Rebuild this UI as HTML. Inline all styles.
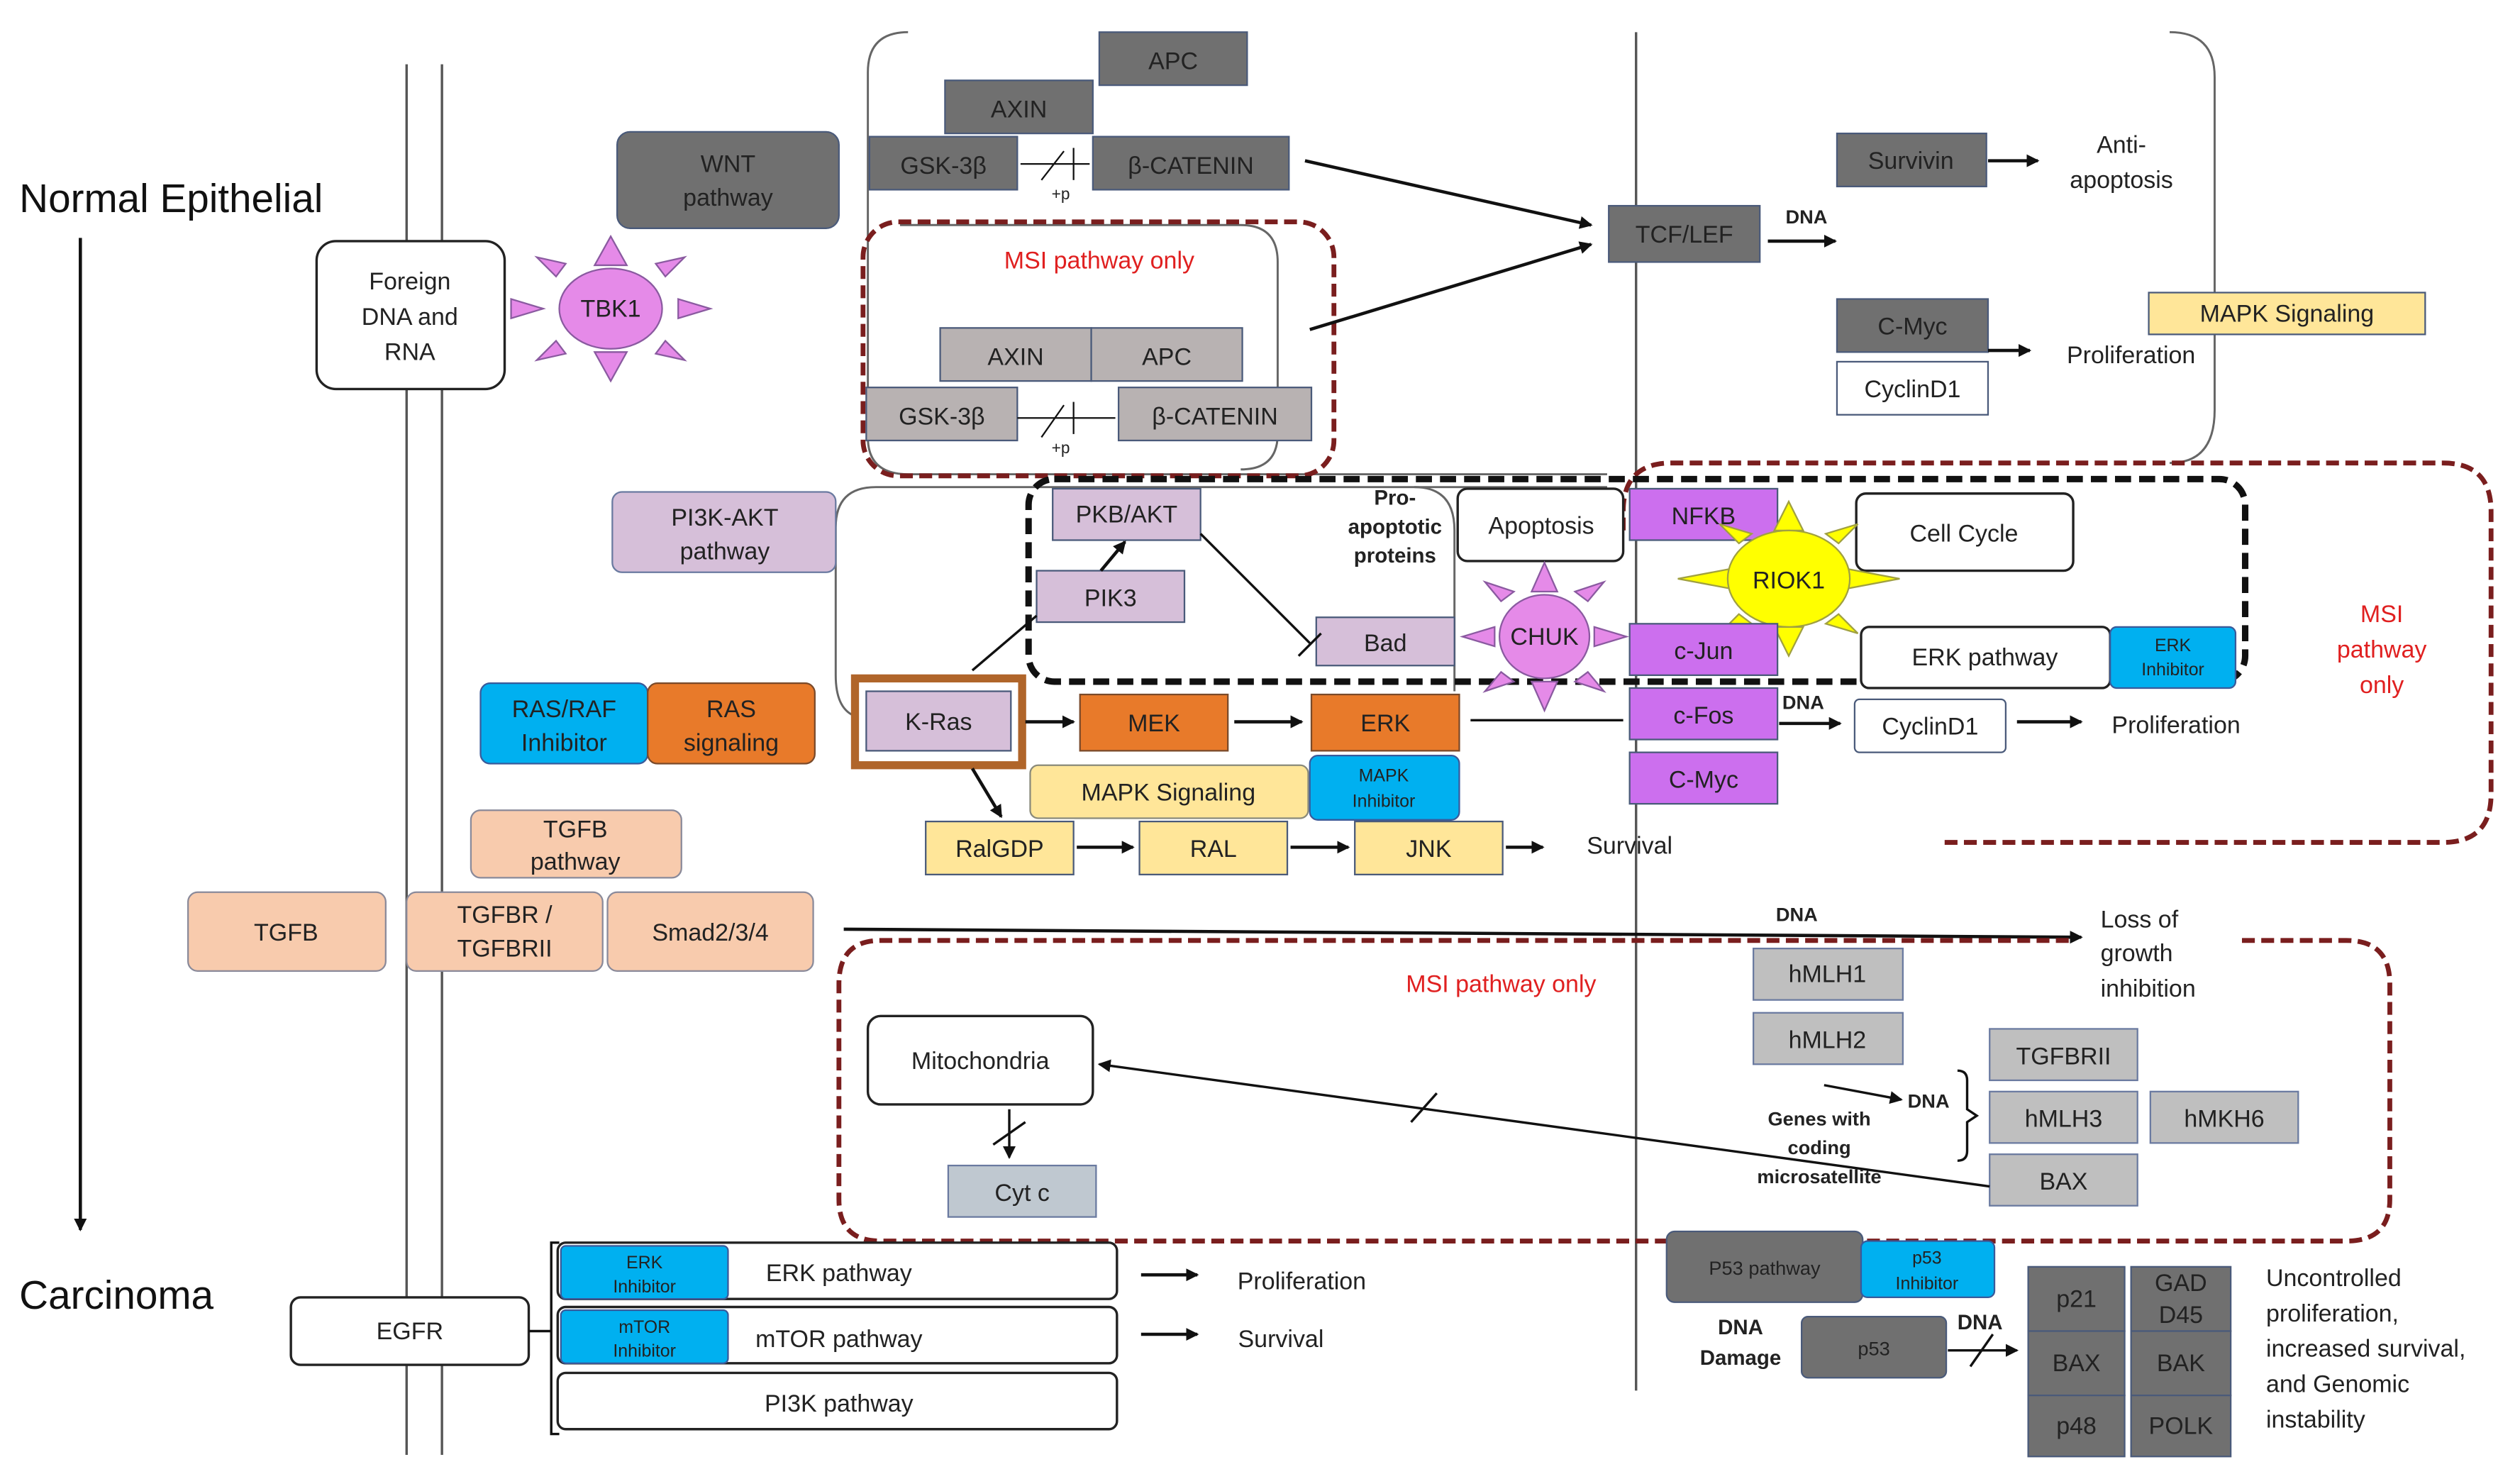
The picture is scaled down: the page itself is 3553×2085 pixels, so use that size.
<!DOCTYPE html>
<html><head><meta charset="utf-8"><style>
html,body{margin:0;padding:0;background:#fff}
svg{display:block}
text{font-family:"Liberation Sans",sans-serif;fill:#222}
text.r{fill:#e02020}
</style></head><body>
<svg width="3553" height="2085" viewBox="0 0 1568 920" preserveAspectRatio="none" xmlns="http://www.w3.org/2000/svg">
<defs>
<marker id="a" markerWidth="8" markerHeight="8" refX="7" refY="4" orient="auto" markerUnits="userSpaceOnUse"><path d="M0,0 L8,4 L0,8 z" fill="#111"/></marker>
</defs>
<g font-size="15" text-anchor="middle">
<line x1="253" y1="40" x2="253" y2="905" stroke="#555" stroke-width="1.5"/>
<line x1="275" y1="40" x2="275" y2="905" stroke="#555" stroke-width="1.5"/>
<line x1="1018" y1="20" x2="1018" y2="865" stroke="#555" stroke-width="1.5"/>
<text x="12" y="132" font-size="25" text-anchor="start" style="fill:#111">Normal Epithelial</text>
<line x1="50" y1="148" x2="50" y2="765" stroke="#111" stroke-width="2" marker-end="url(#a)"/>
<text x="12" y="814" font-size="25" text-anchor="start" style="fill:#111">Carcinoma</text>
<path d="M565,20 Q540,20 540,45 L540,272 Q540,295 565,295 L1000,295" fill="none" stroke="#666" stroke-width="1.3"/>
<path d="M1350,20 Q1378,20 1378,48 L1378,255 Q1378,288 1350,288" fill="none" stroke="#666" stroke-width="1.3"/>
<path d="M560,140 L772,140 Q795,140 795,163 L795,270 Q795,292 772,292" fill="none" stroke="#666" stroke-width="1.3"/>
<path d="M1000,303 L545,303 Q520,303 520,328 L520,420 Q520,440 531,445" fill="none" stroke="#666" stroke-width="1.3"/>
<path d="M880,303 Q905,303 905,330 L905,430" fill="none" stroke="#666" stroke-width="1.3"/>
<rect x="684" y="20" width="92" height="33" fill="#707070" stroke="#4a5a7a"/><text x="730" y="43">APC</text>
<rect x="588" y="50" width="92" height="33" fill="#707070" stroke="#4a5a7a"/><text x="634" y="73">AXIN</text>
<rect x="541" y="85" width="92" height="33" fill="#707070" stroke="#4a5a7a"/><text x="587" y="108">GSK-3β</text>
<rect x="680" y="85" width="122" height="33" fill="#707070" stroke="#4a5a7a"/><text x="741" y="108">β-CATENIN</text>
<line x1="635" y1="102" x2="678" y2="102" stroke="#111"/><line x1="648" y1="112" x2="662" y2="94" stroke="#111"/><line x1="668" y1="92" x2="668" y2="112" stroke="#111"/><text x="660" y="124" font-size="10">+p</text>
<rect x="384" y="82" width="138" height="60" rx="8" fill="#707070" stroke="#4a5a7a"/><text x="453" y="107">WNT</text><text x="453" y="128">pathway</text>
<rect x="197" y="150" width="117" height="92" rx="12" fill="#fff" stroke="#222" stroke-width="1.5"/><text x="255" y="180">Foreign</text><text x="255" y="202">DNA and</text><text x="255" y="224">RNA</text>
<g fill="#e58ae8" stroke="#8a5aa0"><polygon points="370,165 380,147 390,165"/><polygon points="370,219 380,237 390,219"/><polygon points="338,192 318,186 318,198"/><polygon points="422,186 442,192 422,198"/><polygon points="346,172 334,160 352,164"/><polygon points="408,164 426,160 414,172"/><polygon points="346,212 334,224 352,220"/><polygon points="408,220 426,224 414,212"/>
<ellipse cx="380" cy="192" rx="32" ry="25"/></g><text x="380" y="197">TBK1</text>
<rect x="537" y="138" width="293" height="158" rx="22" fill="none" stroke="#7a1e1e" stroke-width="3" stroke-dasharray="8,4"/>
<text x="684" y="167" class="r">MSI pathway only</text>
<rect x="585" y="204" width="94" height="33" fill="#b8b2b2" stroke="#4a5a7a"/><text x="632" y="227">AXIN</text>
<rect x="679" y="204" width="94" height="33" fill="#b8b2b2" stroke="#4a5a7a"/><text x="726" y="227">APC</text>
<rect x="539" y="241" width="94" height="33" fill="#b8b2b2" stroke="#4a5a7a"/><text x="586" y="264">GSK-3β</text>
<rect x="696" y="241" width="120" height="33" fill="#b8b2b2" stroke="#4a5a7a"/><text x="756" y="264">β-CATENIN</text>
<line x1="633" y1="260" x2="694" y2="260" stroke="#111"/><line x1="648" y1="272" x2="662" y2="252" stroke="#111"/><line x1="668" y1="250" x2="668" y2="270" stroke="#111"/><text x="660" y="282" font-size="10">+p</text>
<line x1="812" y1="100" x2="990" y2="140" stroke="#111" stroke-width="2" marker-end="url(#a)"/>
<line x1="815" y1="205" x2="990" y2="152" stroke="#111" stroke-width="2" marker-end="url(#a)"/>
<rect x="1001" y="128" width="94" height="35" fill="#707070" stroke="#4a5a7a"/><text x="1048" y="151">TCF/LEF</text>
<text x="1124" y="139" font-size="12" font-weight="bold">DNA</text><line x1="1100" y1="150" x2="1142" y2="150" stroke="#111" stroke-width="2" marker-end="url(#a)"/>
<rect x="1143" y="83" width="93" height="33" fill="#707070" stroke="#4a5a7a"/><text x="1189" y="105">Survivin</text>
<line x1="1237" y1="100" x2="1268" y2="100" stroke="#111" stroke-width="2" marker-end="url(#a)"/>
<text x="1320" y="95">Anti-</text><text x="1320" y="117">apoptosis</text>
<rect x="1337" y="182" width="172" height="26" fill="#ffe699" stroke="#4a5a7a"/><text x="1423" y="200">MAPK Signaling</text>
<rect x="1143" y="186" width="94" height="33" fill="#707070" stroke="#4a5a7a"/><text x="1190" y="208">C-Myc</text>
<rect x="1143" y="225" width="94" height="33" fill="#fff" stroke="#4a5a7a"/><text x="1190" y="247">CyclinD1</text>
<line x1="1237" y1="218" x2="1263" y2="218" stroke="#111" stroke-width="2" marker-end="url(#a)"/><text x="1326" y="226">Proliferation</text>
<path d="M1210,524 L1520,524 Q1550,524 1550,494 L1550,318 Q1550,288 1520,288 L1040,288 Q1010,288 1010,318 L1010,330" fill="none" stroke="#7a1e1e" stroke-width="3" stroke-dasharray="8,4"/>
<text x="1482" y="387" class="r">MSI</text><text x="1482" y="409" class="r">pathway</text><text x="1482" y="431" class="r">only</text>
<rect x="640" y="298" width="757" height="126" rx="16" fill="none" stroke="#111" stroke-width="4" stroke-dasharray="10,5"/>
<rect x="381" y="306" width="139" height="50" rx="6" fill="#d6bfd9" stroke="#6a7aa0"/><text x="451" y="327">PI3K-AKT</text><text x="451" y="348">pathway</text>
<rect x="655" y="304" width="92" height="32" fill="#d6bfd9" stroke="#4a5a7a"/><text x="701" y="325">PKB/AKT</text>
<rect x="645" y="355" width="92" height="32" fill="#d6bfd9" stroke="#4a5a7a"/><text x="691" y="377">PIK3</text>
<line x1="685" y1="355" x2="700" y2="337" stroke="#111" stroke-width="2" marker-end="url(#a)"/>
<g font-size="13" font-weight="bold"><text x="868" y="314">Pro-</text><text x="868" y="332">apoptotic</text><text x="868" y="350">proteins</text></g>
<rect x="907" y="304" width="103" height="45" rx="6" fill="#fff" stroke="#222" stroke-width="1.5"/><text x="959" y="332">Apoptosis</text>
<rect x="819" y="384" width="86" height="30" fill="#d6bfd9" stroke="#4a5a7a"/><text x="862" y="405">Bad</text>
<line x1="747" y1="332" x2="815" y2="400" stroke="#111" stroke-width="1.5"/><line x1="808" y1="408" x2="822" y2="394" stroke="#111" stroke-width="1.5"/>
<g fill="#e58ae8" stroke="#8a5aa0"><polygon points="953,368 961,350 969,368"/><polygon points="953,424 961,442 969,424"/><polygon points="930,390 910,396 930,402"/><polygon points="992,390 1012,396 992,402"/><polygon points="934,374 924,362 942,368"/><polygon points="980,368 998,362 988,374"/><polygon points="934,418 924,430 942,424"/><polygon points="980,424 998,430 988,418"/>
<ellipse cx="961" cy="396" rx="28" ry="26"/></g><text x="961" y="401">CHUK</text>
<rect x="1014" y="304" width="92" height="32" fill="#cc6fee" stroke="#4a5a7a"/><text x="1060" y="326">NFKB</text>
<rect x="1155" y="307" width="135" height="48" rx="6" fill="#fff" stroke="#222" stroke-width="1.5"/><text x="1222" y="337">Cell Cycle</text>
<g fill="#ffff00" stroke="#a0a040"><polygon points="1104,330 1113,312 1122,330"/><polygon points="1104,390 1113,408 1122,390"/><polygon points="1076,354 1044,360 1076,366"/><polygon points="1150,354 1182,360 1150,366"/><polygon points="1082,338 1070,326 1090,332"/><polygon points="1136,332 1156,326 1144,338"/><polygon points="1082,382 1070,394 1090,388"/><polygon points="1136,388 1156,394 1144,382"/>
<ellipse cx="1113" cy="360" rx="38" ry="30"/></g><text x="1113" y="366">RIOK1</text>
<rect x="1014" y="388" width="92" height="32" fill="#cc6fee" stroke="#4a5a7a"/><text x="1060" y="410">c-Jun</text>
<rect x="1158" y="390" width="155" height="38" rx="5" fill="#fff" stroke="#222" stroke-width="1.5"/><text x="1235" y="414">ERK pathway</text>
<rect x="1313" y="390" width="78" height="38" rx="4" fill="#00b0f0" stroke="#3a5a9a"/><text x="1352" y="405" font-size="11">ERK</text><text x="1352" y="420" font-size="11">Inhibitor</text>
<rect x="299" y="425" width="104" height="50" rx="6" fill="#00b0f0" stroke="#3a5a9a"/><text x="351" y="446">RAS/RAF</text><text x="351" y="467">Inhibitor</text>
<rect x="403" y="425" width="104" height="50" rx="6" fill="#e87a2a" stroke="#7a4a2a"/><text x="455" y="446">RAS</text><text x="455" y="467">signaling</text>
<rect x="532" y="422" width="104" height="54" fill="none" stroke="#b0652a" stroke-width="5"/>
<rect x="539" y="430" width="90" height="37" fill="#d6bfd9" stroke="#4a5a7a"/><text x="584" y="454">K-Ras</text>
<rect x="672" y="432" width="92" height="35" fill="#e87a2a" stroke="#7a4a2a"/><text x="718" y="455">MEK</text>
<rect x="816" y="432" width="92" height="35" fill="#e87a2a" stroke="#7a4a2a"/><text x="862" y="455">ERK</text>
<line x1="638" y1="449" x2="668" y2="449" stroke="#111" stroke-width="2" marker-end="url(#a)"/>
<line x1="768" y1="449" x2="810" y2="449" stroke="#111" stroke-width="2" marker-end="url(#a)"/>
<line x1="915" y1="448" x2="1010" y2="448" stroke="#111" stroke-width="1.5"/>
<line x1="605" y1="417" x2="645" y2="383" stroke="#111" stroke-width="1.5"/>
<line x1="605" y1="478" x2="623" y2="508" stroke="#111" stroke-width="2" marker-end="url(#a)"/>
<rect x="1014" y="428" width="92" height="32" fill="#cc6fee" stroke="#4a5a7a"/><text x="1060" y="450">c-Fos</text>
<text x="1122" y="441" font-size="12" font-weight="bold">DNA</text><line x1="1107" y1="450" x2="1145" y2="450" stroke="#111" stroke-width="2" marker-end="url(#a)"/>
<rect x="1154" y="435" width="94" height="33" rx="3" fill="#fff" stroke="#4a5a7a"/><text x="1201" y="457">CyclinD1</text>
<line x1="1255" y1="449" x2="1295" y2="449" stroke="#111" stroke-width="2" marker-end="url(#a)"/><text x="1354" y="456">Proliferation</text>
<rect x="1014" y="468" width="92" height="32" fill="#cc6fee" stroke="#4a5a7a"/><text x="1060" y="490">C-Myc</text>
<rect x="641" y="476" width="173" height="33" rx="5" fill="#ffe699" stroke="#8a8a7a"/><text x="727" y="498">MAPK Signaling</text>
<rect x="815" y="470" width="93" height="40" rx="5" fill="#00b0f0" stroke="#3a5a9a"/><text x="861" y="486" font-size="11">MAPK</text><text x="861" y="502" font-size="11">Inhibitor</text>
<rect x="576" y="511" width="92" height="33" fill="#ffe699" stroke="#4a5a7a"/><text x="622" y="533">RalGDP</text>
<rect x="709" y="511" width="92" height="33" fill="#ffe699" stroke="#4a5a7a"/><text x="755" y="533">RAL</text>
<rect x="843" y="511" width="92" height="33" fill="#ffe699" stroke="#4a5a7a"/><text x="889" y="533">JNK</text>
<line x1="670" y1="527" x2="705" y2="527" stroke="#111" stroke-width="2" marker-end="url(#a)"/>
<line x1="803" y1="527" x2="839" y2="527" stroke="#111" stroke-width="2" marker-end="url(#a)"/>
<line x1="937" y1="527" x2="960" y2="527" stroke="#111" stroke-width="2" marker-end="url(#a)"/><text x="1014" y="531">Survival</text>
<rect x="293" y="504" width="131" height="42" rx="6" fill="#f8cbad" stroke="#8a8a9a"/><text x="358" y="521">TGFB</text><text x="358" y="541">pathway</text>
<rect x="117" y="555" width="123" height="49" rx="6" fill="#f8cbad" stroke="#8a8a9a"/><text x="178" y="585">TGFB</text>
<rect x="253" y="555" width="122" height="49" rx="6" fill="#f8cbad" stroke="#8a8a9a"/><text x="314" y="574">TGFBR /</text><text x="314" y="595">TGFBRII</text>
<rect x="378" y="555" width="128" height="49" rx="6" fill="#f8cbad" stroke="#8a8a9a"/><text x="442" y="585">Smad2/3/4</text>
<line x1="525" y1="578" x2="1295" y2="583" stroke="#111" stroke-width="2" marker-end="url(#a)"/>
<text x="1118" y="573" font-size="12" font-weight="bold">DNA</text>
<text x="1307" y="577" text-anchor="start">Loss of</text><text x="1307" y="598" text-anchor="start">growth</text><text x="1307" y="620" text-anchor="start">inhibition</text>
<path d="M1395,585 L1460,585 Q1487,585 1487,612 L1487,746 Q1487,772 1460,772 L548,772 Q522,772 522,746 L522,612 Q522,585 548,585 L1290,585" fill="none" stroke="#7a1e1e" stroke-width="3" stroke-dasharray="8,4"/>
<text x="934" y="617" class="r">MSI pathway only</text>
<rect x="1091" y="590" width="93" height="32" fill="#bfbfbf" stroke="#6a7aa0"/><text x="1137" y="611">hMLH1</text>
<rect x="1091" y="630" width="93" height="32" fill="#bfbfbf" stroke="#6a7aa0"/><text x="1137" y="652">hMLH2</text>
<rect x="540" y="632" width="140" height="55" rx="8" fill="#fff" stroke="#222" stroke-width="1.5"/><text x="610" y="665">Mitochondria</text>
<rect x="590" y="725" width="92" height="32" fill="#bfc8d0" stroke="#6a7aa0"/><text x="636" y="747">Cyt c</text>
<line x1="628" y1="690" x2="628" y2="720" stroke="#111" stroke-width="1.5" marker-end="url(#a)"/><line x1="618" y1="712" x2="638" y2="698" stroke="#111" stroke-width="1.5"/>
<rect x="1238" y="640" width="92" height="32" fill="#bfbfbf" stroke="#6a7aa0"/><text x="1284" y="662">TGFBRII</text>
<rect x="1238" y="679" width="92" height="32" fill="#bfbfbf" stroke="#6a7aa0"/><text x="1284" y="701">hMLH3</text>
<rect x="1338" y="679" width="92" height="32" fill="#bfbfbf" stroke="#6a7aa0"/><text x="1384" y="701">hMKH6</text>
<rect x="1238" y="718" width="92" height="32" fill="#bfbfbf" stroke="#6a7aa0"/><text x="1284" y="740">BAX</text>
<line x1="1238" y1="738" x2="684" y2="662" stroke="#111" stroke-width="1.5" marker-end="url(#a)"/><line x1="878" y1="698" x2="894" y2="680" stroke="#111" stroke-width="1.5"/>
<g font-size="12" font-weight="bold"><text x="1132" y="700">Genes with</text><text x="1132" y="718">coding</text><text x="1132" y="736">microsatellite</text><text x="1200" y="689">DNA</text></g>
<line x1="1135" y1="675" x2="1183" y2="684" stroke="#111" stroke-width="1.5" marker-end="url(#a)"/>
<path d="M1218,666 Q1224,666 1224,672 L1224,690 L1230,694 L1224,698 L1224,716 Q1224,722 1218,722" fill="none" stroke="#111" stroke-width="1.5"/>
<rect x="181" y="807" width="148" height="42" rx="6" fill="#fff" stroke="#222" stroke-width="1.5"/><text x="255" y="833">EGFR</text>
<path d="M329,828 L343,828 M348,773 L343,773 L343,892 L348,892" fill="none" stroke="#111" stroke-width="1.5"/>
<rect x="347" y="773" width="348" height="35" rx="5" fill="#fff" stroke="#222" stroke-width="1.5"/>
<rect x="349" y="775" width="104" height="33" rx="3" fill="#00b0f0" stroke="#3a5a9a"/><text x="401" y="789" font-size="11">ERK</text><text x="401" y="804" font-size="11">Inhibitor</text><text x="522" y="797">ERK pathway</text>
<rect x="347" y="813" width="348" height="35" rx="5" fill="#fff" stroke="#222" stroke-width="1.5"/>
<rect x="349" y="815" width="104" height="33" rx="3" fill="#00b0f0" stroke="#3a5a9a"/><text x="401" y="829" font-size="11">mTOR</text><text x="401" y="844" font-size="11">Inhibitor</text><text x="522" y="838">mTOR pathway</text>
<rect x="347" y="854" width="348" height="35" rx="5" fill="#fff" stroke="#222" stroke-width="1.5"/><text x="522" y="878">PI3K pathway</text>
<line x1="710" y1="793" x2="745" y2="793" stroke="#111" stroke-width="2" marker-end="url(#a)"/><text x="810" y="802">Proliferation</text>
<line x1="710" y1="830" x2="745" y2="830" stroke="#111" stroke-width="2" marker-end="url(#a)"/><text x="797" y="838">Survival</text>
<rect x="1037" y="766" width="122" height="44" rx="5" fill="#707070" stroke="#4a5a7a"/><text x="1098" y="793" font-size="12">P53 pathway</text>
<rect x="1158" y="772" width="83" height="35" rx="4" fill="#00b0f0" stroke="#3a5a9a"/><text x="1199" y="786" font-size="11">p53</text><text x="1199" y="802" font-size="11">Inhibitor</text>
<rect x="1121" y="819" width="90" height="38" rx="4" fill="#707070" stroke="#4a5a7a"/><text x="1166" y="843" font-size="12">p53</text>
<g font-size="13" font-weight="bold"><text x="1083" y="830">DNA</text><text x="1083" y="849">Damage</text><text x="1232" y="827">DNA</text></g>
<line x1="1212" y1="840" x2="1255" y2="840" stroke="#111" stroke-width="1.5" marker-end="url(#a)"/><line x1="1226" y1="850" x2="1240" y2="830" stroke="#111" stroke-width="1.5"/>
<g fill="#707070" stroke="#4a5a7a"><rect x="1262" y="788" width="60" height="40"/><rect x="1326" y="788" width="62" height="40"/><rect x="1262" y="828" width="60" height="40"/><rect x="1326" y="828" width="62" height="40"/><rect x="1262" y="868" width="60" height="38"/><rect x="1326" y="868" width="62" height="38"/></g>
<text x="1292" y="813">p21</text><text x="1357" y="803">GAD</text><text x="1357" y="823">D45</text><text x="1292" y="853">BAX</text><text x="1357" y="853">BAK</text><text x="1292" y="892">p48</text><text x="1357" y="892">POLK</text>
<g text-anchor="start"><text x="1410" y="800">Uncontrolled</text><text x="1410" y="822">proliferation,</text><text x="1410" y="844">increased survival,</text><text x="1410" y="866">and Genomic</text><text x="1410" y="888">instability</text></g>
</g>
</svg>
</body></html>
